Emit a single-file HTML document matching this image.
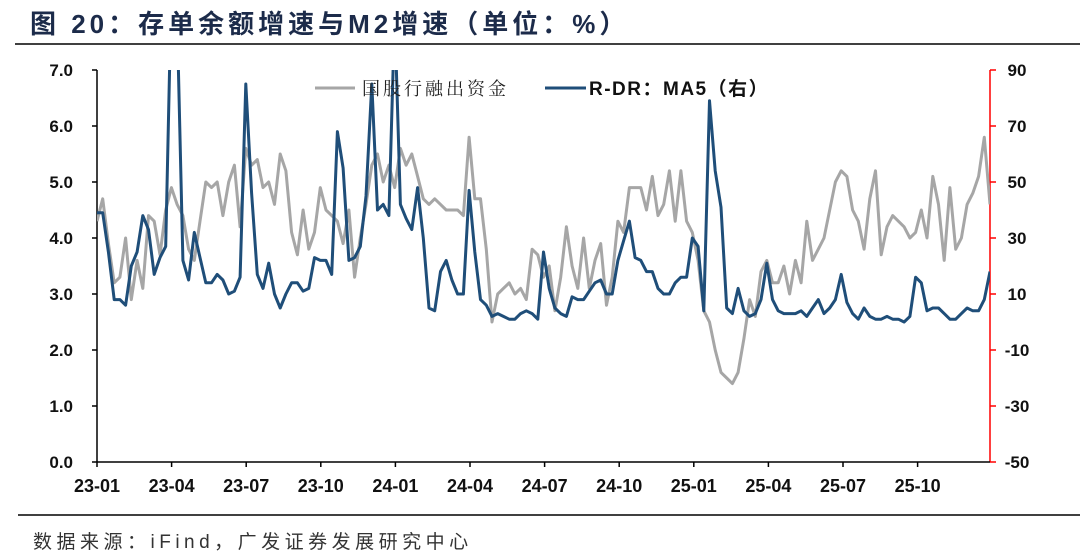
<!DOCTYPE html>
<html><head><meta charset="utf-8">
<style>
body{margin:0;background:#fff;width:1080px;height:557px;overflow:hidden;font-family:"Liberation Sans","Noto Sans CJK SC",sans-serif;}
svg{display:block}
</style></head>
<body>
<svg id="chart" width="1080" height="557" viewBox="0 0 1080 557" xmlns="http://www.w3.org/2000/svg">
  <text x="30" y="33" font-size="26" font-weight="bold" letter-spacing="4" fill="#1c2b4a" font-family="Liberation Sans, Noto Sans CJK SC, sans-serif">图 20：存单余额增速与M2增速（单位：%）</text>
  <line x1="15" y1="44" x2="1080" y2="44" stroke="#000" stroke-width="1.5"/>
  <line x1="18" y1="515" x2="1080" y2="515" stroke="#000" stroke-width="1.5"/>
  <text x="33" y="548" font-size="19" letter-spacing="4.5" fill="#333" font-family="Liberation Sans, Noto Sans CJK SC, sans-serif">数据来源：iFind，广发证券发展研究中心</text>
  <defs><clipPath id="plotclip"><rect x="97" y="70" width="893" height="392"/></clipPath></defs>
  <g id="axes"></g>
  <g id="series" clip-path="url(#plotclip)"></g>
  <g id="legend">
    <line x1="315" y1="88" x2="355" y2="88" stroke="#a6a6a6" stroke-width="3"/>
    <text x="362" y="95" font-size="18" letter-spacing="3" fill="#222" font-family="Noto Serif CJK SC, serif">国股行融出资金</text>
    <line x1="545" y1="88" x2="586" y2="88" stroke="#1f4e79" stroke-width="3"/>
    <text x="589" y="95" font-size="19" font-weight="bold" letter-spacing="1.5" fill="#111" font-family="Liberation Sans, Noto Sans CJK SC, sans-serif">R-DR：MA5（右）</text>
  </g>
</svg>
<script>
const xTickLabels = ["23-01","23-04","23-07","23-10","24-01","24-04","24-07","24-10","25-01","25-04","25-07","25-10"];
const leftTicks = [0,1,2,3,4,5,6,7];
const rightTicks = [-50,-30,-10,10,30,50,70,90];
const grayValues = [4.3,4.7,3.9,3.2,3.3,4.0,2.9,3.6,3.1,4.4,4.3,3.7,4.5,4.9,4.6,4.4,3.8,3.6,4.3,5.0,4.9,5.0,4.4,5.0,5.3,4.2,5.6,5.3,5.4,4.9,5.0,4.6,5.5,5.2,4.1,3.7,4.5,3.8,4.1,4.9,4.5,4.4,4.3,3.9,4.5,3.3,4.0,4.6,5.3,5.5,5.0,5.3,4.9,5.6,5.3,5.5,5.1,4.7,4.6,4.7,4.6,4.5,4.5,4.5,4.4,5.8,4.7,4.7,3.8,2.5,3.0,3.1,3.2,3.0,3.1,2.9,3.8,3.7,3.3,3.5,2.7,3.3,4.2,3.5,3.1,4.0,3.1,3.6,3.9,2.8,3.3,4.3,4.1,4.9,4.9,4.9,4.5,5.1,4.4,4.6,5.2,4.3,5.2,4.3,4.1,3.6,2.7,2.5,2.0,1.6,1.5,1.4,1.6,2.2,2.9,2.6,3.4,3.6,3.2,3.2,3.5,3.0,3.6,3.2,4.3,3.6,3.8,4.0,4.5,5.0,5.2,5.1,4.5,4.3,3.8,4.7,5.2,3.7,4.2,4.4,4.3,4.2,4.0,4.1,4.5,4.0,5.1,4.6,3.6,4.9,3.8,4.0,4.6,4.8,5.1,5.8,4.6];
const blueValues = [39,39,25,8,8,6,20,25,38,33,17,23,27,120,110,22,15,32,23,14,14,17,15,10,11,16,85,46,17,12,21,10,5,10,14,14,11,12,23,22,22,17,68,55,22,23,27,45,85,40,42,38,110,42,37,33,48,30,5,4,18,22,15,10,10,47,25,8,6,2,3,2,1,1,3,4,3,1,25,12,5,3,2,9,8,8,11,14,15,10,10,22,29,36,23,22,18,18,12,10,10,14,16,16,30,27,4,79,54,41,5,3,12,4,2,3,8,21,8,4,3,3,3,4,2,5,8,3,5,8,17,7,3,1,5,2,1,1,2,1,1,0,2,16,14,4,5,5,3,1,1,3,5,4,4,8,18];

const NS="http://www.w3.org/2000/svg";
const X0=97,X1=990,YT=70,YB=462;
const nWeeks=156;
const xOfWeek=i=>X0+(X1-X0)*i/nWeeks;
const xOfQuarter=q=>X0+74.6*q;
const yL=v=>YB-(v-0)/(7-0)*(YB-YT);
const yR=v=>YB-(v+50)/(140)*(YB-YT);
const axes=document.getElementById('axes');
const series=document.getElementById('series');
function mk(tag,attrs,parent){const e=document.createElementNS(NS,tag);for(const k in attrs)e.setAttribute(k,attrs[k]);parent.appendChild(e);return e;}

const la=mk('line',{x1:X0,y1:YT,x2:X0,y2:YB,stroke:'#000','stroke-width':1.5},axes);


const ra=mk('line',{x1:X1,y1:YT,x2:X1,y2:YB,stroke:'#ff0000','stroke-width':1.5},axes);


const xa=mk('line',{x1:X0,y1:YB,x2:X1,y2:YB,stroke:'#000','stroke-width':1.5},axes);



leftTicks.forEach(v=>{
  const y=yL(v);
  const t=mk('line',{x1:X0-5,y1:y,x2:X0,y2:y,stroke:'#000','stroke-width':1.5},axes);
  
  
  const l=mk('text',{x:X0-24,y:y+6,'font-size':17,'font-weight':'bold','text-anchor':'end',fill:'#111'},axes);
  l.textContent=v.toFixed(1);
  
  
});
rightTicks.forEach(v=>{
  const y=yR(v);
  const t=mk('line',{x1:X1,y1:y,x2:X1+6,y2:y,stroke:'#ff0000','stroke-width':1.5},axes);
  
  
  const l=mk('text',{x:X1+27,y:y+6,'font-size':17,'font-weight':'bold','text-anchor':'middle',fill:'#111'},axes);
  l.textContent=String(v);
  
  
});
xTickLabels.forEach((s,q)=>{
  const x=xOfQuarter(q);
  const t=mk('line',{x1:x,y1:YB,x2:x,y2:YB+5,stroke:'#000','stroke-width':1.5},axes);
  
  
  const l=mk('text',{x:x,y:YB+30,'font-size':18,'font-weight':'bold','text-anchor':'middle',fill:'#111'},axes);
  l.textContent=s;
  
  
});

const gp=mk('polyline',{points:grayValues.map((v,i)=>xOfWeek(i).toFixed(1)+','+yL(v).toFixed(1)).join(' '),fill:'none',stroke:'#a6a6a6','stroke-width':3,'stroke-linejoin':'round'},series);


const bp=mk('polyline',{points:blueValues.map((v,i)=>xOfWeek(i).toFixed(1)+','+yR(v).toFixed(1)).join(' '),fill:'none',stroke:'#1f4e79','stroke-width':3,'stroke-linejoin':'round'},series);


</script>
</body></html>
